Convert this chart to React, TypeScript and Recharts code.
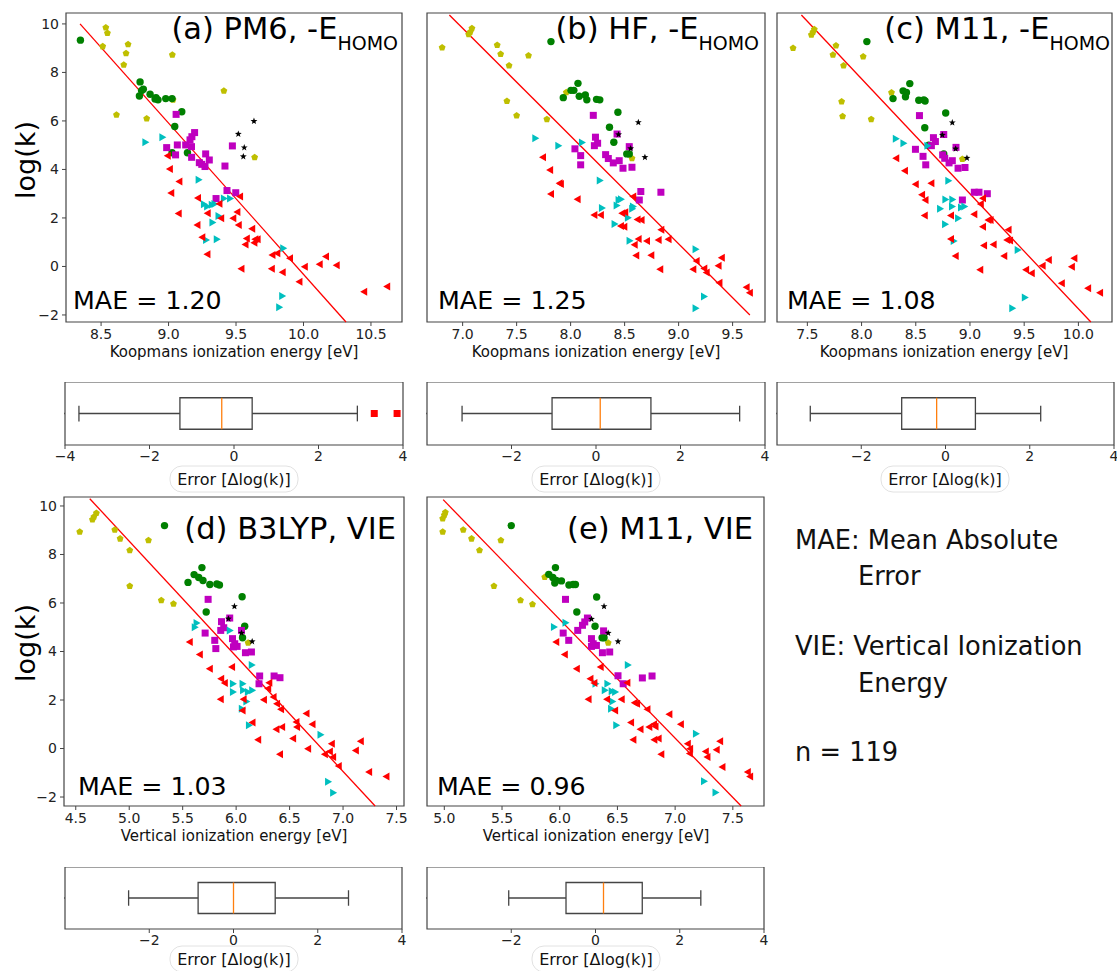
import React from "react";
import {
  ScatterChart,
  Scatter,
  XAxis,
  YAxis,
  ReferenceArea,
  ReferenceLine,
} from "recharts";

type P = [number, number];

const FONT = "'DejaVu Sans', sans-serif";

// (a) PM6, -E_HOMO  (Koopmans IE [eV], log(k))
const aYel: P[] = [[8.535, 9.85], [8.547, 9.62], [8.512, 9.07], [8.70, 9.16], [8.685, 8.79], [8.668, 8.31], [9.028, 8.72], [9.41, 7.24], [8.614, 6.25], [8.838, 6.10], [9.033, 6.87], [9.638, 4.50]];
const aGrn: P[] = [[8.347, 9.33], [8.789, 7.61], [8.813, 7.31], [8.80, 7.25], [8.784, 7.03], [8.863, 7.10], [8.907, 6.96], [8.922, 6.87], [8.90, 6.90], [8.979, 6.92], [9.026, 6.92], [9.098, 6.38], [9.046, 5.77], [9.026, 4.69], [9.14, 4.69]];
const aBlk: P[] = [[9.633, 5.99], [9.517, 5.46], [9.561, 4.90], [9.554, 4.53]];
const aMag: P[] = [[9.056, 6.27], [8.986, 4.90], [9.065, 5.01], [9.052, 4.60], [9.127, 5.01], [9.159, 5.22], [9.173, 5.35], [9.193, 5.52], [9.17, 4.94], [9.171, 4.50], [9.228, 4.28], [9.246, 4.21], [9.27, 4.12], [9.275, 4.64], [9.302, 4.39], [9.473, 4.97], [9.418, 4.14], [9.433, 3.13], [9.352, 2.80], [9.498, 3.04]];
const aCyn: P[] = [[8.828, 5.12], [8.954, 5.33], [9.223, 3.57], [9.262, 2.56], [9.286, 2.47], [9.32, 2.54], [9.34, 2.58], [9.41, 2.80], [9.456, 2.80], [9.37, 2.08], [9.325, 1.81], [9.278, 1.09], [9.357, 1.12], [9.85, 0.75], [9.842, -1.22], [9.82, -1.68]];
const aRed: P[] = [[8.994, 4.56], [9.01, 4.02], [9.08, 3.50], [9.02, 3.03], [9.075, 2.18], [9.218, 2.82], [9.214, 1.71], [9.25, 1.20], [9.288, 0.50], [9.29, 2.19], [9.377, 2.59], [9.39, 1.99], [9.48, 1.99], [9.51, 2.25], [9.53, 2.88], [9.52, 1.71], [9.58, 1.15], [9.57, 0.91], [9.62, 1.55], [9.643, 1.12], [9.66, 1.12], [9.636, 0.98], [9.54, -0.09], [9.77, 0.47], [9.806, 0.54], [9.765, -0.09], [9.846, -0.24], [9.90, 0.34], [9.97, -0.63], [10.01, -0.01], [10.12, 0.09], [10.167, 0.41], [10.246, 0.05], [10.45, -1.04], [10.62, -0.83]];
const aFit: P[] = [[8.344, 10.0], [10.315, -2.29]];

// (b) HF, -E_HOMO
const bYel: P[] = [[6.81, 9.02], [7.056, 9.57], [7.07, 9.66], [7.086, 9.82], [7.32, 9.13], [7.352, 8.76], [7.43, 8.28], [7.61, 8.69], [7.41, 6.82], [7.50, 6.22], [7.78, 6.07], [7.96, 7.18], [8.568, 4.46]];
const bGrn: P[] = [[7.818, 9.27], [8.068, 7.55], [8.003, 7.26], [7.932, 6.96], [8.03, 7.26], [8.08, 7.02], [8.136, 7.07], [8.15, 6.87], [8.24, 6.89], [8.27, 6.87], [8.438, 6.36], [8.36, 5.74], [8.40, 5.12], [8.52, 4.64], [8.543, 4.64]];
const bBlk: P[] = [[8.627, 5.94], [8.444, 5.44], [8.556, 4.86], [8.688, 4.50]];
const bMag: P[] = [[8.21, 6.23], [8.23, 5.33], [8.22, 4.98], [8.25, 5.08], [8.04, 4.85], [8.093, 4.57], [8.093, 4.19], [8.324, 4.61], [8.349, 4.45], [8.395, 4.27], [8.45, 4.36], [8.485, 4.05], [8.568, 4.09], [8.43, 5.46], [8.543, 4.94], [8.65, 3.09], [8.636, 2.74], [8.836, 3.06]];
const bCyn: P[] = [[7.673, 5.29], [7.886, 4.98], [8.105, 5.11], [8.27, 3.54], [8.29, 2.41], [8.426, 2.51], [8.444, 2.74], [8.466, 2.77], [8.577, 2.47], [8.57, 2.38], [8.53, 2.01], [8.407, 1.75], [8.546, 1.06], [9.157, 0.71], [9.235, -1.24], [9.157, -1.72]];
const bRed: P[] = [[7.744, 4.50], [7.81, 3.98], [7.898, 3.43], [7.91, 3.40], [7.818, 2.99], [8.065, 2.77], [8.22, 2.12], [8.28, 2.12], [8.478, 2.19], [8.506, 2.23], [8.466, 1.67], [8.497, 1.64], [8.58, 2.88], [8.62, 1.94], [8.657, 1.92], [8.84, 1.51], [8.907, 1.12], [8.815, 1.09], [8.707, 1.05], [8.63, 1.13], [8.593, 0.89], [8.608, 0.45], [8.747, 0.46], [8.83, -0.12], [9.167, 0.23], [9.136, -0.12], [9.238, -0.08], [9.26, -0.25], [9.40, 0.36], [9.37, 0.03], [9.378, -0.67], [9.63, -0.86], [9.66, -1.08]];
const bFit: P[] = [[6.877, 10.37], [9.66, -2.0]];

// (c) M11, -E_HOMO
const cYel: P[] = [[7.368, 9.0], [7.537, 9.55], [7.552, 9.66], [7.564, 9.78], [7.736, 8.72], [7.764, 9.11], [7.834, 8.28], [8.015, 8.65], [7.816, 6.80], [7.825, 6.19], [8.089, 6.07], [8.276, 7.17], [8.93, 4.43]];
const cGrn: P[] = [[8.049, 9.27], [8.445, 7.54], [8.383, 7.24], [8.414, 7.17], [8.405, 7.0], [8.29, 6.92], [8.528, 6.85], [8.574, 6.87], [8.586, 6.82], [8.776, 6.33], [8.583, 5.72], [8.758, 4.64], [8.62, 5.0]];
const cBlk: P[] = [[8.837, 5.93], [8.745, 5.42], [8.868, 4.85], [8.972, 4.47]];
const cMag: P[] = [[8.534, 6.22], [8.663, 5.31], [8.681, 5.15], [8.644, 4.98], [8.758, 5.44], [8.497, 4.83], [8.567, 4.54], [8.592, 4.19], [8.748, 4.60], [8.767, 4.46], [8.807, 4.27], [8.837, 4.36], [8.89, 4.05], [8.954, 4.08], [8.871, 4.91], [9.04, 3.06], [9.083, 3.06], [9.16, 3.0], [8.93, 2.74]];
const cCyn: P[] = [[8.316, 5.27], [8.386, 5.08], [8.607, 4.98], [8.80, 3.53], [8.724, 2.38], [8.773, 2.76], [8.837, 2.76], [8.834, 2.47], [8.917, 2.43], [8.948, 2.47], [8.89, 1.99], [8.77, 1.74], [8.85, 1.05], [9.44, 0.68], [9.506, -1.28], [9.39, -1.72]];
const cRed: P[] = [[8.32, 4.46], [8.40, 3.95], [8.50, 3.39], [8.644, 3.43], [8.558, 2.96], [8.59, 2.74], [8.583, 2.10], [8.825, 2.10], [9.04, 2.15], [9.12, 2.81], [9.10, 2.58], [9.17, 1.92], [9.19, 1.92], [9.12, 1.64], [9.356, 1.51], [9.343, 1.09], [9.37, 1.07], [9.218, 0.91], [9.13, 0.86], [8.825, 1.13], [8.868, 0.43], [9.316, 0.43], [9.095, -0.14], [9.518, -0.14], [9.57, -0.28], [9.67, 0.03], [9.727, 0.27], [9.847, -0.69], [9.94, -0.01], [9.963, 0.34], [10.09, -0.90], [10.20, -1.08]];
const cFit: P[] = [[7.445, 10.37], [10.115, -2.29]];

// (d) B3LYP, VIE
const dYel: P[] = [[4.537, 8.93], [4.656, 9.44], [4.67, 9.55], [4.693, 9.71], [4.865, 9.02], [4.915, 8.65], [5.005, 8.17], [5.18, 8.58], [5.005, 6.70], [5.30, 6.11], [5.414, 5.96], [5.644, 7.07], [6.112, 4.36]];
const dGrn: P[] = [[5.33, 9.19], [5.68, 7.46], [5.607, 7.17], [5.65, 7.05], [5.69, 6.93], [5.55, 6.85], [5.754, 6.76], [5.82, 6.78], [5.844, 6.74], [6.056, 6.26], [5.72, 5.63], [6.08, 5.04], [6.06, 4.57]];
const dBlk: P[] = [[5.984, 5.86], [5.928, 5.35], [6.05, 4.76], [6.15, 4.41]];
const dMag: P[] = [[5.738, 6.15], [5.863, 5.23], [5.94, 5.38], [5.856, 4.87], [5.884, 4.98], [5.71, 4.76], [5.80, 4.46], [5.81, 4.12], [5.966, 4.53], [5.987, 4.32], [6.009, 4.21], [5.975, 4.19], [6.05, 4.87], [6.087, 3.95], [6.143, 3.98], [6.22, 2.99], [6.214, 2.67], [6.355, 2.99], [6.41, 2.92]];
const dCyn: P[] = [[5.613, 5.0], [5.63, 5.17], [5.94, 4.87], [6.146, 3.44], [5.97, 2.67], [5.97, 2.33], [6.06, 2.67], [6.065, 2.40], [6.11, 2.33], [6.15, 2.40], [6.096, 1.94], [6.053, 1.64], [6.12, 0.96], [6.789, 0.57], [6.86, -1.37], [6.907, -1.82]];
const dRed: P[] = [[5.566, 4.39], [5.66, 3.88], [5.754, 3.29], [5.962, 3.36], [5.86, 2.88], [5.894, 2.70], [5.856, 2.03], [6.07, 2.03], [6.06, 1.57], [6.153, 1.07], [6.206, 0.36], [6.26, 2.01], [6.31, 2.71], [6.30, 2.47], [6.35, 2.12], [6.383, 1.85], [6.42, 1.62], [6.377, 0.79], [6.43, 0.89], [6.41, -0.24], [6.533, 0.41], [6.564, 1.09], [6.57, 0.89], [6.658, 1.44], [6.714, 1.0], [6.673, -0.01], [6.895, 0.20], [6.83, -0.24], [6.877, -0.12], [6.907, -0.35], [6.96, -0.72], [7.12, -0.08], [7.166, 0.30], [7.244, -0.97], [7.406, -1.15]];
const dFit: P[] = [[4.631, 10.30], [7.30, -2.37]];

// (e) M11, VIE
const eYel: P[] = [[4.986, 8.93], [4.986, 9.48], [5.0, 9.62], [5.009, 9.74], [5.164, 9.02], [5.236, 8.65], [5.305, 8.17], [5.49, 8.58], [5.43, 6.70], [5.66, 6.11], [5.764, 5.94], [5.87, 7.07], [6.42, 4.36]];
const eGrn: P[] = [[5.58, 9.19], [5.963, 7.46], [5.905, 7.18], [5.94, 7.05], [5.97, 6.93], [5.957, 6.82], [6.015, 6.91], [6.08, 6.74], [6.116, 6.76], [6.136, 6.76], [6.32, 6.25], [6.148, 5.63], [6.306, 5.04], [6.367, 4.57], [6.384, 4.57]];
const eBlk: P[] = [[6.384, 5.86], [6.275, 5.34], [6.42, 4.76], [6.505, 4.41]];
const eMag: P[] = [[6.05, 6.15], [6.24, 5.38], [6.217, 5.22], [6.197, 5.08], [6.156, 4.87], [6.03, 4.76], [6.078, 4.46], [6.275, 4.53], [6.29, 4.32], [6.318, 4.25], [6.275, 4.21], [6.37, 3.95], [6.433, 3.98], [6.38, 4.85], [6.505, 3.0], [6.55, 2.67], [6.716, 2.91], [6.80, 2.99]];
const eCyn: P[] = [[5.95, 5.01], [6.05, 5.19], [6.59, 3.44], [6.31, 2.67], [6.39, 2.40], [6.413, 2.67], [6.45, 2.36], [6.48, 2.33], [6.456, 1.94], [6.445, 1.64], [6.49, 0.96], [7.18, 0.61], [7.25, -1.35], [7.35, -1.81]];
const eRed: P[] = [[5.97, 4.39], [6.044, 3.88], [6.148, 3.29], [6.355, 3.36], [6.266, 2.88], [6.30, 2.70], [6.25, 2.03], [6.41, 2.03], [6.48, 1.57], [6.537, 2.03], [6.586, 2.71], [6.65, 1.89], [6.67, 1.85], [6.76, 1.62], [6.618, 1.07], [6.638, 0.36], [6.70, 0.79], [6.776, 0.89], [6.817, 1.0], [6.83, 0.91], [6.82, 0.36], [6.857, 0.41], [6.88, -0.24], [6.95, 1.41], [7.05, 1.0], [7.11, 0.20], [7.13, -0.01], [7.128, -0.21], [7.266, -0.12], [7.28, -0.35], [7.36, -0.05], [7.39, 0.30], [7.41, -0.76], [7.63, -0.97], [7.65, -1.15]];
const eFit: P[] = [[4.99, 10.26], [7.572, -2.37]];

const yTicks = [-2, 0, 2, 4, 6, 8, 10];
const ticksA = [8.5, 9.0, 9.5, 10.0, 10.5];
const ticksB = [7.0, 7.5, 8.0, 8.5, 9.0, 9.5];
const ticksC = [7.5, 8.0, 8.5, 9.0, 9.5, 10.0];
const ticksD = [4.5, 5.0, 5.5, 6.0, 6.5, 7.0, 7.5];
const ticksE = [5.0, 5.5, 6.0, 6.5, 7.0, 7.5];
const boxTicksA = [-4, -2, 0, 2, 4];
const boxTicks = [-2, 0, 2, 4];

// error box plots: [low whisker, q1, median, q3, high whisker]
const boxA = [-3.67, -1.28, -0.29, 0.43, 2.92];
const fliersA = [3.32, 3.86];
const boxB = [-3.17, -1.04, 0.10, 1.30, 3.40];
const boxC = [-3.21, -1.04, -0.21, 0.71, 2.26];
const boxD = [-2.49, -0.84, 0.0, 0.99, 2.73];
const boxE = [-2.06, -0.70, 0.19, 1.11, 2.50];

const YEL = "#bfbf00";
const GRN = "#008000";
const MAG = "#bf00bf";
const CYN = "#00bfbf";
const RED = "#ff0000";
const BLK = "#000000";
const FRAME = "#444";

const toPts = (d: P[]) => d.map(([x, y]) => ({ x, y }));
const minus = (s: string) => s.replace("-", "\u2212");
const fmt1 = (v: number) => minus(v.toFixed(1));
const fmt0 = (v: number) => minus(String(v));

function makeShape(kind: string, color: string) {
  return (p: any) => {
    const { cx, cy } = p;
    if (cx == null || cy == null) return <g />;
    if (kind === "circle") return <circle cx={cx} cy={cy} r={3.7} fill={color} />;
    if (kind === "square") return <rect x={cx - 3.5} y={cy - 3.5} width={7} height={7} fill={color} />;
    if (kind === "left") return <polygon points={`${cx - 4},${cy} ${cx + 3},${cy - 4} ${cx + 3},${cy + 4}`} fill={color} />;
    if (kind === "right") return <polygon points={`${cx + 4},${cy} ${cx - 3},${cy - 4} ${cx - 3},${cy + 4}`} fill={color} />;
    if (kind === "pent") {
      const pts = [0, 1, 2, 3, 4]
        .map((k) => {
          const a = -Math.PI / 2 + (k * 2 * Math.PI) / 5;
          return `${cx + 3.6 * Math.cos(a)},${cy + 3.6 * Math.sin(a)}`;
        })
        .join(" ");
      return <polygon points={pts} fill={color} />;
    }
    // star
    const pts = Array.from({ length: 10 }, (_, k) => {
      const a = -Math.PI / 2 + (k * Math.PI) / 5;
      const r = k % 2 === 0 ? 3.6 : 1.5;
      return `${cx + r * Math.cos(a)},${cy + r * Math.sin(a)}`;
    }).join(" ");
    return <polygon points={pts} fill={color} />;
  };
}

interface PanelProps {
  x: number;
  y: number;
  w: number;
  h: number;
  xDomain: [number, number];
  yDomain: [number, number];
  xTicks: number[];
  showY: boolean;
  groups: P[][];
  fit: P[];
}

const kinds = ["pent", "circle", "square", "right", "left", "star"];
const colors = [YEL, GRN, MAG, CYN, RED, BLK];

function ScatterPanel({ x, y, w, h, xDomain, yDomain, xTicks, showY, groups, fit }: PanelProps) {
  const ML = 66;
  const MT = 13;
  return (
    <div style={{ position: "absolute", left: x - ML, top: y - MT }}>
      <ScatterChart width={w + ML + 8} height={h + MT + 30} margin={{ top: MT, right: 8, bottom: 0, left: 0 }}>
        <XAxis
          type="number"
          dataKey="x"
          domain={xDomain}
          ticks={xTicks}
          allowDataOverflow
          interval={0}
          height={30}
          tickSize={4}
          tickMargin={3}
          axisLine={false}
          stroke={FRAME}
          tickFormatter={fmt1}
          tick={{ fontSize: 14, fill: "#222", fontFamily: FONT }}
        />
        <YAxis
          type="number"
          dataKey="y"
          domain={yDomain}
          ticks={yTicks}
          allowDataOverflow
          interval={0}
          width={ML}
          tickSize={4}
          tickMargin={3}
          axisLine={false}
          tickLine={showY}
          stroke={FRAME}
          tickFormatter={fmt0}
          tick={showY ? { fontSize: 14, fill: "#222", fontFamily: FONT } : false}
        />
        <ReferenceArea
          x1={xDomain[0]}
          x2={xDomain[1]}
          y1={yDomain[0]}
          y2={yDomain[1]}
          fill="none"
          fillOpacity={0}
          stroke={FRAME}
          strokeWidth={1.2}
          ifOverflow="visible"
        />
        {[0, 1, 2, 3, 4, 5].map((i) => (
          <Scatter
            key={i}
            data={toPts(groups[i])}
            fill={colors[i]}
            shape={makeShape(kinds[i], colors[i])}
            isAnimationActive={false}
          />
        ))}
        <ReferenceLine
          segment={[
            { x: fit[0][0], y: fit[0][1] },
            { x: fit[1][0], y: fit[1][1] },
          ]}
          stroke={RED}
          strokeWidth={1.3}
          ifOverflow="visible"
        />
      </ScatterChart>
    </div>
  );
}

interface BoxProps {
  x: number;
  y: number;
  w: number;
  h: number;
  stats: number[];
  fliers: number[];
  ticks: number[];
}

function BoxPanel({ x, y, w, h, stats, fliers, ticks }: BoxProps) {
  const [lo, q1, med, q3, hi] = stats;
  const line = { stroke: "#444", strokeWidth: 1.3, ifOverflow: "visible" as const };
  return (
    <div style={{ position: "absolute", left: x - 10, top: y }}>
      <ScatterChart width={w + 20} height={h + 26} margin={{ top: 0, right: 10, bottom: 0, left: 10 }}>
        <XAxis
          type="number"
          dataKey="x"
          domain={[-4, 4]}
          ticks={ticks}
          allowDataOverflow
          interval={0}
          height={26}
          tickSize={4}
          tickMargin={2}
          axisLine={false}
          stroke={FRAME}
          tickFormatter={fmt0}
          tick={{ fontSize: 14, fill: "#222", fontFamily: FONT }}
        />
        <YAxis type="number" dataKey="y" domain={[0.5, 1.5]} allowDataOverflow hide />
        <ReferenceArea x1={-4} x2={4} y1={0.5} y2={1.5} fill="none" fillOpacity={0} stroke={FRAME} strokeWidth={1.2} ifOverflow="visible" />
        <ReferenceArea x1={q1} x2={q3} y1={0.75} y2={1.25} fill="none" fillOpacity={0} stroke="#444" strokeWidth={1.3} ifOverflow="visible" />
        <ReferenceLine segment={[{ x: lo, y: 1 }, { x: q1, y: 1 }]} {...line} />
        <ReferenceLine segment={[{ x: q3, y: 1 }, { x: hi, y: 1 }]} {...line} />
        <ReferenceLine segment={[{ x: lo, y: 0.875 }, { x: lo, y: 1.125 }]} {...line} />
        <ReferenceLine segment={[{ x: hi, y: 0.875 }, { x: hi, y: 1.125 }]} {...line} />
        <ReferenceLine segment={[{ x: -4, y: 1 }, { x: -4.02, y: 1 }]} {...line} />
        <ReferenceLine segment={[{ x: med, y: 0.75 }, { x: med, y: 1.25 }]} stroke="#ff7f0e" strokeWidth={1.3} ifOverflow="visible" />
        <Scatter
          data={fliers.map((v) => ({ x: v, y: 1 }))}
          fill={RED}
          shape={makeShape("square", RED)}
          isAnimationActive={false}
        />
      </ScatterChart>
    </div>
  );
}

const titles = [
  { x: 398, y: 39, main: "(a) PM6, -E", sub: "HOMO" },
  { x: 759, y: 39, main: "(b) HF, -E", sub: "HOMO" },
  { x: 1110, y: 39, main: "(c) M11, -E", sub: "HOMO" },
  { x: 396, y: 539, main: "(d) B3LYP, VIE", sub: "" },
  { x: 753, y: 539, main: "(e) M11, VIE", sub: "" },
];
const maes = [
  { x: 73, y: 309, t: "MAE = 1.20" },
  { x: 438, y: 309, t: "MAE = 1.25" },
  { x: 787, y: 309, t: "MAE = 1.08" },
  { x: 78, y: 795, t: "MAE = 1.03" },
  { x: 437, y: 795, t: "MAE = 0.96" },
];
const xLabels = [
  { x: 234, y: 352, t: "Koopmans ionization energy [eV]" },
  { x: 596, y: 352, t: "Koopmans ionization energy [eV]" },
  { x: 944, y: 352, t: "Koopmans ionization energy [eV]" },
  { x: 234, y: 836, t: "Vertical ionization energy [eV]" },
  { x: 596, y: 836, t: "Vertical ionization energy [eV]" },
];
const errLabels = [
  { x: 234, y: 479 },
  { x: 596, y: 479 },
  { x: 945, y: 479 },
  { x: 234, y: 959 },
  { x: 596, y: 959 },
];
const notes = [
  { x: 795, y: 540, t: "MAE: Mean Absolute" },
  { x: 858, y: 576, t: "Error" },
  { x: 795, y: 646, t: "VIE: Vertical Ionization" },
  { x: 858, y: 683, t: "Energy" },
  { x: 795, y: 752, t: "n = 119" },
];

export default function App() {
  const row1Y: [number, number] = [-2.29, 10.45];
  const row2Y: [number, number] = [-2.37, 10.37];
  return (
    <div style={{ position: "absolute", left: 0, top: 0, width: 1117, height: 971, background: "#fff", overflow: "hidden", fontFamily: FONT }}>
      <ScatterPanel x={66} y={13} w={336} h={309} xDomain={[8.24, 10.73]} yDomain={row1Y} xTicks={ticksA} showY groups={[aYel, aGrn, aMag, aCyn, aRed, aBlk]} fit={aFit} />
      <ScatterPanel x={427} y={13} w={338} h={309} xDomain={[6.67, 9.8]} yDomain={row1Y} xTicks={ticksB} showY={false} groups={[bYel, bGrn, bMag, bCyn, bRed, bBlk]} fit={bFit} />
      <ScatterPanel x={777} y={13} w={335} h={309} xDomain={[7.22, 10.31]} yDomain={row1Y} xTicks={ticksC} showY={false} groups={[cYel, cGrn, cMag, cCyn, cRed, cBlk]} fit={cFit} />
      <ScatterPanel x={64} y={497} w={340} h={309} xDomain={[4.39, 7.57]} yDomain={row2Y} xTicks={ticksD} showY groups={[dYel, dGrn, dMag, dCyn, dRed, dBlk]} fit={dFit} />
      <ScatterPanel x={427} y={497} w={337} h={309} xDomain={[4.85, 7.77]} yDomain={row2Y} xTicks={ticksE} showY={false} groups={[eYel, eGrn, eMag, eCyn, eRed, eBlk]} fit={eFit} />

      <BoxPanel x={65} y={382} w={338} h={63} stats={boxA} fliers={fliersA} ticks={boxTicksA} />
      <BoxPanel x={427} y={382} w={338} h={63} stats={boxB} fliers={[]} ticks={boxTicks} />
      <BoxPanel x={777} y={382} w={337} h={63} stats={boxC} fliers={[]} ticks={boxTicks} />
      <BoxPanel x={65} y={867} w={337} h={62} stats={boxD} fliers={[]} ticks={boxTicks} />
      <BoxPanel x={427} y={867} w={337} h={62} stats={boxE} fliers={[]} ticks={boxTicks} />

      <svg width={1117} height={971} style={{ position: "absolute", left: 0, top: 0, pointerEvents: "none" }} fontFamily={FONT}>
        {titles.map((t) => (
          <text key={t.main} x={t.x} y={t.y} textAnchor="end" fontSize={30.5} fill="#000">
            {t.main}
            {t.sub ? (
              <tspan fontSize={19} dy={11}>
                {t.sub}
              </tspan>
            ) : null}
          </text>
        ))}
        {maes.map((m) => (
          <text key={m.t} x={m.x} y={m.y} fontSize={25.3} fill="#000">
            {m.t}
          </text>
        ))}
        {xLabels.map((l, i) => (
          <text key={i} x={l.x} y={l.y} textAnchor="middle" dominantBaseline="central" fontSize={15} fill="#111">
            {l.t}
          </text>
        ))}
        {errLabels.map((l, i) => (
          <g key={i}>
            <rect x={l.x - 64} y={l.y - 13} width={128} height={26} rx={12} fill="#fff" stroke="#e2e2e2" />
            <text x={l.x} y={l.y} textAnchor="middle" dominantBaseline="central" fontSize={16} fill="#111">
              Error [Δlog(k)]
            </text>
          </g>
        ))}
        <text x={35} y={160} transform="rotate(-90 35 160)" textAnchor="middle" fontSize={27} fill="#000">
          log(k)
        </text>
        <text x={35} y={643} transform="rotate(-90 35 643)" textAnchor="middle" fontSize={27} fill="#000">
          log(k)
        </text>
        {notes.map((n) => (
          <text key={n.t} x={n.x} y={n.y} dominantBaseline="central" fontSize={25.7} fill="#111">
            {n.t}
          </text>
        ))}
      </svg>
    </div>
  );
}
